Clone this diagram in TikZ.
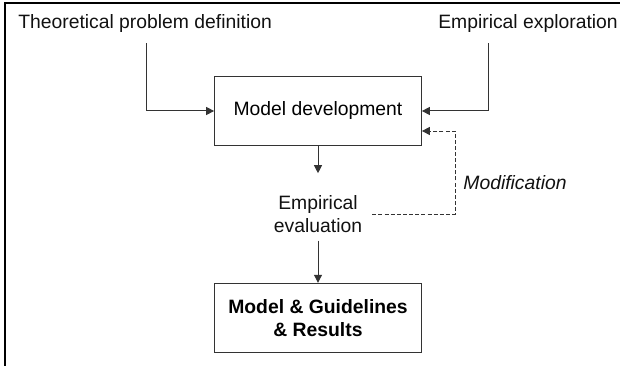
\documentclass[tikz,border=0pt]{standalone}
\usepackage{fontspec}
\setmainfont{Liberation Sans}
\usepackage{xcolor}
\usetikzlibrary{arrows.meta,positioning,calc}
\definecolor{ink}{HTML}{111111}
\definecolor{wire}{HTML}{333333}
\definecolor{frame}{HTML}{000000}
\tikzset{
  stage/.style={draw=wire, line width=0.8pt, minimum width=155pt, minimum height=52pt,
                align=center, inner sep=4pt, font=\fontsize{14.5}{17}\selectfont},
  plain/.style={inner sep=0pt, align=center, text=ink, font=\fontsize{14.5}{17}\selectfont},
  arrow/.style={-{Triangle[length=6pt,width=6pt]}, line width=0.75pt, draw=wire},
  feedback/.style={arrow, dash pattern=on 3pt off 1.6pt, line width=0.65pt}
}
\begin{document}
\begin{tikzpicture}[x=0.75pt,y=-0.75pt]
  \useasboundingbox (0,0) rectangle (622,366);
  \draw[frame, line width=1.4pt] (5,366) -- (5,3) -- (620,3);

  % inputs on the top row
  \node[plain, anchor=west] (theory) at (18,24) {Theoretical problem definition};
  \node[plain, anchor=east] (explore) at (618,24) {Empirical exploration};

  \node[stage] (model) at (318,111) {Model development};
  \node[plain] (evaluation) at (318,214) {Empirical\\evaluation};
  \node[stage, font=\fontsize{14.5}{17}\selectfont\bfseries] (result) at (318,318)
       {Model \& Guidelines\\\& Results};
  \node[plain, font=\fontsize{14.5}{17}\selectfont\itshape] (modif) at (515,183) {Modification};

  \draw[arrow] ($(theory.south west)+(128,10)$) |- (model.west);
  \draw[arrow] ($(explore.south west)+(50,10)$) |- (model.east);
  \draw[arrow] (model.south) -- ++(0,27);
  \draw[arrow] ($(evaluation.south)+(0,8)$) -- (result.north);
  % loop back for changes
  \draw[feedback] ($(evaluation.east)+(10,0)$) -- ++(83,0) |- ([yshift=-15pt]model.east);
\end{tikzpicture}
\end{document}
